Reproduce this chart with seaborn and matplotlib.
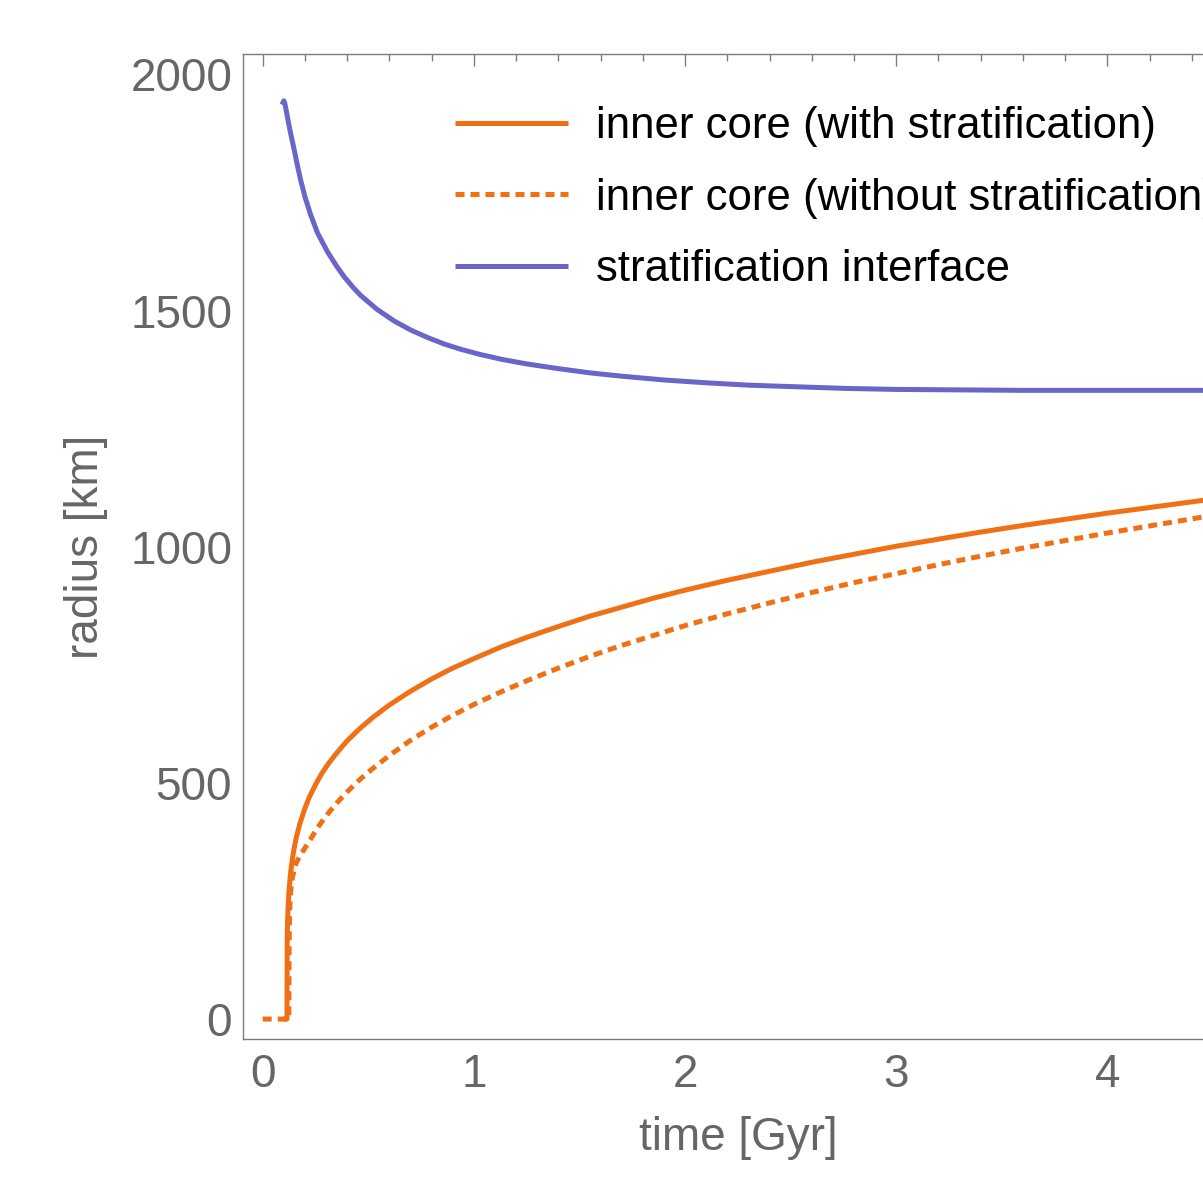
import matplotlib
matplotlib.use("Agg")
import matplotlib.pyplot as plt
from matplotlib.ticker import MultipleLocator
import seaborn as sns

# Inner core radius with a stratified layer (km vs Gyr)
t_strat = [0.100, 0.115, 0.116, 0.117, 0.118, 0.120, 0.122, 0.125, 0.130, 0.135,
           0.142, 0.150, 0.160, 0.177, 0.200, 0.220, 0.250, 0.280, 0.310, 0.350,
           0.400, 0.460, 0.520, 0.600, 0.700, 0.800, 0.900, 1.000, 1.130, 1.250,
           1.400, 1.550, 1.700, 1.850, 2.000, 2.200, 2.400, 2.600, 2.800, 3.000,
           3.200, 3.400, 3.600, 3.800, 4.000, 4.200, 4.400, 4.600]
r_strat = [0, 0, 161, 189, 208, 233, 252, 273, 300, 320,
           343, 364, 386, 415, 446, 469, 496, 520, 540, 563,
           589, 615, 638, 665, 694, 720, 743, 763, 788, 808,
           831, 853, 872, 891, 908, 929, 948, 967, 984, 1001,
           1016, 1031, 1045, 1058, 1071, 1083, 1095, 1107]

# Inner core radius without stratification
t_nostrat = [0.000, 0.124, 0.125, 0.127, 0.130, 0.135, 0.142, 0.150, 0.160, 0.180,
             0.200, 0.227, 0.260, 0.300, 0.350, 0.400, 0.460, 0.520, 0.600, 0.700,
             0.800, 0.900, 1.000, 1.130, 1.250, 1.400, 1.550, 1.700, 1.850, 2.000,
             2.200, 2.400, 2.600, 2.800, 3.000, 3.200, 3.400, 3.600, 3.800, 4.000,
             4.200, 4.400, 4.600]
r_nostrat = [0, 0, 150, 215, 255, 282, 302, 318, 332, 348,
             362, 381, 405, 430, 457, 481, 507, 530, 558, 590,
             618, 643, 666, 693, 716, 743, 768, 791, 812, 833,
             858, 881, 903, 924, 943, 962, 980, 997, 1013, 1029,
             1044, 1059, 1074]

# Radius of the stratification interface
t_iface = [0.092, 0.100, 0.104, 0.110, 0.120, 0.130, 0.148, 0.165, 0.180, 0.200,
           0.227, 0.260, 0.306, 0.350, 0.385, 0.430, 0.464, 0.540, 0.622, 0.700,
           0.780, 0.860, 0.938, 1.030, 1.128, 1.250, 1.400, 1.550, 1.700, 1.900,
           2.100, 2.300, 2.500, 2.770, 3.000, 3.300, 3.600, 4.000, 4.600]
r_iface = [1936, 1944, 1940, 1927, 1903, 1880, 1843, 1806, 1776, 1741,
           1703, 1664, 1625, 1594, 1572, 1548, 1532, 1503, 1478, 1459,
           1443, 1429, 1418, 1407, 1397, 1387, 1377, 1368, 1361, 1353,
           1347, 1342, 1339, 1335, 1333, 1332, 1331, 1331, 1331]

labels = ["inner core (with stratification)",
          "inner core (without stratification)",
          "stratification interface"]

ORANGE = "#F07016"
BLUE = "#6A65C8"
AXIS_GREY = "#7c7c7c"
TEXT_GREY = "#666666"

sns.set_theme(style="white")
plt.rcParams["font.family"] = ["Liberation Sans", "DejaVu Sans"]

FS = 33
LEG_FS = 31.5
fig = plt.figure(figsize=(12.03, 11.88), dpi=100)
ax = fig.add_axes([0.2022, 0.1254, 0.8237, 0.8291])

lw = 3.6
sns.lineplot(x=t_strat, y=r_strat, ax=ax, color=ORANGE, lw=lw,
             estimator=None, sort=False, label=labels[0])
sns.lineplot(x=t_nostrat, y=r_nostrat, ax=ax, color=ORANGE, lw=lw,
             estimator=None, sort=False, label=labels[1])
dashed = ax.lines[-1]
dashed.set_dashes([1.8, 1.2])
dashed.set_dash_capstyle("butt")
sns.lineplot(x=t_iface, y=r_iface, ax=ax, color=BLUE, lw=lw,
             estimator=None, sort=False, label=labels[2])
for ln in ax.lines:
    ln.set_solid_capstyle("butt")
    ln.set_solid_joinstyle("round")

ax.set_xlim(-0.092, 4.6)
ax.set_ylim(-42.3, 2043)

ax.xaxis.set_major_locator(MultipleLocator(1))
ax.xaxis.set_minor_locator(MultipleLocator(0.2))
ax.yaxis.set_major_locator(MultipleLocator(500))
ax.yaxis.set_minor_locator(MultipleLocator(100))

for side in ["left", "right", "top", "bottom"]:
    ax.spines[side].set_color(AXIS_GREY)
    ax.spines[side].set_linewidth(1.0)

ax.tick_params(which="both", direction="in", top=True, right=True,
               color=AXIS_GREY, width=1.0, labelcolor=TEXT_GREY,
               labelsize=FS)
ax.tick_params(which="major", length=8.4)
ax.tick_params(which="minor", length=4.8)
ax.tick_params(axis="x", which="major", pad=10)
ax.tick_params(axis="y", which="major", pad=8)

ax.set_xlabel("time [Gyr]", fontsize=FS, color=TEXT_GREY, labelpad=14)
ax.set_ylabel("radius [km]", fontsize=FS, color=TEXT_GREY, labelpad=16)

leg = ax.legend(loc="upper left", bbox_to_anchor=(455 / 1203, 1 - 106 / 1188),
                bbox_transform=fig.transFigure, frameon=False, fontsize=LEG_FS,
                handlelength=2.58, handletextpad=0.64, labelspacing=0.70,
                borderpad=0, borderaxespad=0)
for txt in leg.get_texts():
    txt.set_color("black")

fig.savefig("out.png", dpi=100)
